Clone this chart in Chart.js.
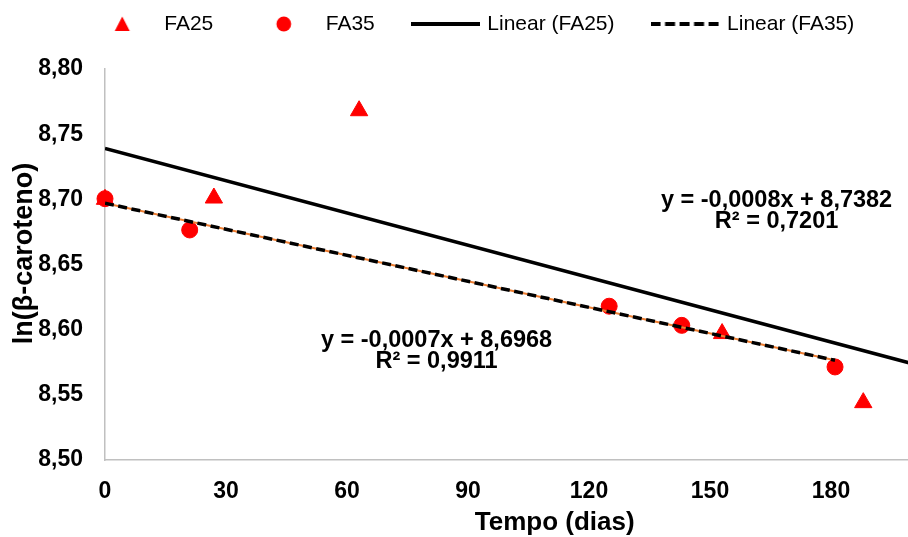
<!DOCTYPE html>
<html>
<head>
<meta charset="utf-8">
<script src="https://cdn.jsdelivr.net/npm/chart.js@4"></script>
<style>
  html, body { margin: 0; padding: 0; background: #fff; overflow: hidden; }
  #wrap { width: 908px; height: 537px; overflow: hidden; }
</style>
</head>
<body>
<div id="wrap"><canvas id="chart" width="970" height="537"></canvas></div>
<script>
// values
const fa25Days = [0, 27, 63, 153, 188];
const fa25Values = [8.700, 8.701, 8.768, 8.597, 8.544];
const fa35Days = [0, 21, 125, 143, 181];
const fa35Values = [8.7005, 8.6765, 8.618, 8.6033, 8.5714];

// trendline end points (as drawn)
const trendFA25Days = [0, 200];
const trendFA25Values = [8.739, 8.574];
const trendFA35Days = [0, 181];
const trendFA35Values = [8.697, 8.5765];

const seriesNames = ['FA25', 'FA35', 'Linear (FA25)', 'Linear (FA35)'];
const xTickLabels = ['0', '30', '60', '90', '120', '150', '180'];
const yTickLabels = ['8,50', '8,55', '8,60', '8,65', '8,70', '8,75', '8,80'];
const xTitle = 'Tempo (dias)';
const yTitle = 'ln(β-caroteno)';

const equations = [
  { lines: ['y = -0,0008x + 8,7382', 'R² = 0,7201'], x: 166.5, y: 8.6938 },
  { lines: ['y = -0,0007x + 8,6968', 'R² = 0,9911'], x: 82.2, y: 8.5867 }
];

const RED = '#FF0000';
const FONT = '"Liberation Sans", Arial, sans-serif';
Chart.defaults.font.family = FONT;
Chart.defaults.color = '#000';

function points(xs, ys) {
  return xs.map((x, i) => ({ x: x, y: ys[i] }));
}

function makeIcon(w, h, draw) {
  const c = document.createElement('canvas');
  c.width = w;
  c.height = h;
  draw(c.getContext('2d'));
  return c;
}

const legendIcons = [
  makeIcon(18, 18, ctx => {
    ctx.fillStyle = RED;
    ctx.beginPath();
    ctx.moveTo(9, 1.5);
    ctx.lineTo(16.5, 16);
    ctx.lineTo(1.5, 16);
    ctx.closePath();
    ctx.fill();
  }),
  makeIcon(18, 18, ctx => {
    ctx.fillStyle = RED;
    ctx.beginPath();
    ctx.arc(9, 9, 7.4, 0, Math.PI * 2);
    ctx.fill();
  }),
  makeIcon(69, 6, ctx => {
    ctx.strokeStyle = '#000';
    ctx.lineWidth = 4;
    ctx.beginPath();
    ctx.moveTo(0, 3);
    ctx.lineTo(69, 3);
    ctx.stroke();
  }),
  makeIcon(69, 6, ctx => {
    ctx.strokeStyle = '#000';
    ctx.lineWidth = 4;
    ctx.setLineDash([10, 4.5]);
    ctx.beginPath();
    ctx.moveTo(0, 3);
    ctx.lineTo(69, 3);
    ctx.stroke();
  })
];

// equations and axis titles
const textPlugin = {
  id: 'texts',
  afterDraw(chart) {
    const { ctx, chartArea } = chart;
    const x = chart.scales.x, y = chart.scales.y;
    ctx.save();
    ctx.fillStyle = '#000';
    ctx.textAlign = 'center';
    ctx.textBaseline = 'alphabetic';
    ctx.font = 'bold 23.5px ' + FONT;
    equations.forEach(eq => {
      const px = x.getPixelForValue(eq.x);
      const py = y.getPixelForValue(eq.y);
      eq.lines.forEach((t, i) => ctx.fillText(t, px, py + i * 20.5));
    });
    ctx.font = 'bold 26px ' + FONT;
    ctx.fillText(xTitle, x.getPixelForValue(111.5), chartArea.bottom + 70);
    ctx.font = 'bold 27px ' + FONT;
    ctx.translate(25, y.getPixelForValue(8.6584));
    ctx.rotate(-Math.PI / 2);
    ctx.textBaseline = 'middle';
    ctx.fillText(yTitle, 0, 0);
    ctx.restore();
  }
};

new Chart(document.getElementById('chart'), {
  type: 'scatter',
  data: {
    datasets: [
      {
        label: seriesNames[0],
        data: points(fa25Days, fa25Values),
        pointStyle: 'triangle',
        pointRadius: 10,
        pointHoverRadius: 10,
        backgroundColor: RED,
        borderColor: RED,
        borderWidth: 1,
        clip: false,
        order: 4
      },
      {
        label: seriesNames[1],
        data: points(fa35Days, fa35Values),
        pointStyle: 'circle',
        pointRadius: 8,
        pointHoverRadius: 8,
        backgroundColor: RED,
        borderColor: RED,
        borderWidth: 1,
        clip: false,
        order: 3
      },
      {
        label: seriesNames[2],
        data: points(trendFA25Days, trendFA25Values),
        showLine: true,
        pointRadius: 0,
        borderColor: '#000',
        backgroundColor: '#000',
        borderWidth: 3.5,
        order: 1
      },
      {
        label: seriesNames[3],
        data: points(trendFA35Days, trendFA35Values),
        showLine: true,
        pointRadius: 0,
        borderColor: '#000',
        backgroundColor: '#000',
        borderWidth: 3.5,
        borderDash: [9, 4.5],
        order: 1
      },
      {
        label: 'underlay',
        data: points(trendFA35Days, trendFA35Values),
        showLine: true,
        pointRadius: 0,
        borderColor: '#ED7D31',
        borderWidth: 2,
        order: 2
      }
    ]
  },
  options: {
    responsive: false,
    animation: false,
    events: [],
    layout: { padding: { top: -25.5, right: 9, left: -16, bottom: 0 } },
    plugins: {
      tooltip: { enabled: false },
      legend: {
        position: 'top',
        labels: {
          usePointStyle: true,
          pointStyleWidth: 63,
          padding: 39,
          font: { size: 21 },
          color: '#000',
          filter: item => item.datasetIndex < 4,
          generateLabels(chart) {
            const items = Chart.defaults.plugins.legend.labels.generateLabels(chart);
            items.sort((a, b) => a.datasetIndex - b.datasetIndex);
            items.forEach(it => { it.pointStyle = legendIcons[it.datasetIndex]; });
            return items;
          }
        }
      }
    },
    scales: {
      x: {
        type: 'linear',
        min: 0,
        max: 210,
        grid: { display: true, drawOnChartArea: false, drawTicks: false },
        border: { display: true, color: '#C0C0C0', width: 1.5 },
        ticks: {
          stepSize: 30,
          padding: 18,
          font: { size: 23, weight: 'bold' },
          color: '#000',
          callback: (v, i) => xTickLabels[i] ?? ''
        },
        afterFit: s => { s.height = 77; }
      },
      x2: {
        type: 'linear',
        position: 'top',
        grid: { display: false },
        border: { display: false },
        ticks: { display: false },
        afterFit: s => { s.height = 24.5; }
      },
      y: {
        min: 8.5,
        max: 8.8,
        grid: { display: true, drawOnChartArea: false, drawTicks: false },
        border: { display: true, color: '#C0C0C0', width: 1.5 },
        ticks: {
          stepSize: 0.05,
          padding: 22,
          font: { size: 23, weight: 'bold' },
          color: '#000',
          callback: (v, i) => yTickLabels[i]
        },
        afterFit: s => { s.width = 121; }
      }
    }
  },
  plugins: [textPlugin]
});
</script>
</body>
</html>
